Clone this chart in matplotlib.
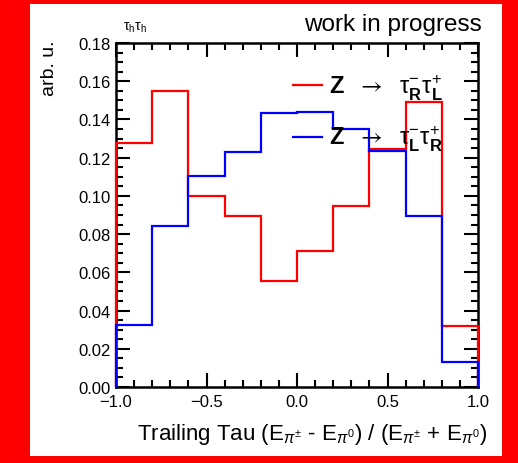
import matplotlib
matplotlib.use("Agg")
import matplotlib.pyplot as plt
from matplotlib.patches import Rectangle
from matplotlib.ticker import MultipleLocator, FuncFormatter
import numpy as np

plt.rcParams['font.family'] = ['Liberation Sans', 'DejaVu Sans']
plt.rcParams['mathtext.fontset'] = 'custom'
plt.rcParams['mathtext.rm'] = 'Liberation Sans'
plt.rcParams['mathtext.it'] = 'Liberation Sans:italic'
plt.rcParams['mathtext.bf'] = 'Liberation Sans:bold'
plt.rcParams['mathtext.sf'] = 'STIXGeneral'

bin_edges = [-1.0, -0.8, -0.6, -0.4, -0.2, 0.0, 0.2, 0.4, 0.6, 0.8, 1.0]
red_values = [0.1275, 0.1547, 0.0998, 0.0897, 0.0555, 0.0712, 0.0945, 0.1245, 0.1490, 0.0320]
blue_values = [0.0325, 0.0840, 0.1104, 0.1232, 0.1432, 0.1441, 0.1352, 0.1237, 0.0897, 0.0130]
red_label = r'$\mathbf{Z}\ \ \mathsf{\rightarrow}\ \ \mathrm{\tau}^{-}_{\mathbf{R}}\mathrm{\tau}^{+}_{\mathbf{L}}$'
blue_label = r'$\mathbf{Z}\ \ \mathsf{\rightarrow}\ \ \mathrm{\tau}^{-}_{\mathbf{L}}\mathrm{\tau}^{+}_{\mathbf{R}}$'

W, H = 518, 464
fig = plt.figure(figsize=(W/100, H/100), dpi=100)
fig.patch.set_facecolor('#ff0000')
fig.patches.append(Rectangle((30/W, 7/H), 472/W, 452/H, transform=fig.transFigure,
                             facecolor='white', edgecolor='none', zorder=0))

ax = fig.add_axes([116/W, 1-388/H, 362/W, 344/H])
ax.set_zorder(2)
ax.set_facecolor('white')

ax.stairs(red_values, bin_edges, baseline=0, color='#ff0000', lw=1.6, zorder=3,
          clip_on=False, label=red_label)
ax.stairs(blue_values, bin_edges, baseline=0, color='#0000ff', lw=1.6, zorder=3.1,
          clip_on=False, label=blue_label)

ax.set_xlim(-1, 1)
ax.set_ylim(0, 0.18)
ax.xaxis.set_major_locator(MultipleLocator(0.5))
ax.xaxis.set_minor_locator(MultipleLocator(0.1))
ax.yaxis.set_major_locator(MultipleLocator(0.02))
ax.yaxis.set_minor_locator(MultipleLocator(0.005))
ax.xaxis.set_major_formatter(FuncFormatter(lambda v, p: ('%.1f' % v).replace('-', '\u2212')))
ax.yaxis.set_major_formatter(FuncFormatter(lambda v, p: '%.2f' % v))
ax.tick_params(which='both', direction='in', top=True, right=True, width=1.5, labelsize=12)
ax.tick_params(which='major', length=10)
ax.tick_params(axis='y', which='major', pad=4)
ax.tick_params(axis='x', which='major', pad=5)
ax.tick_params(which='minor', length=5)
for s in ax.spines.values():
    s.set_linewidth(1.8)

fig.text(487/W, 1-440/H,
         r'Trailing Tau (E$_{\pi^{\pm}}$ - E$_{\pi^{0}}$) / (E$_{\pi^{\pm}}$ + E$_{\pi^{0}}$)',
         ha='right', va='baseline', fontsize=16)
fig.text(49/W, 1-40/H, 'arb. u.', rotation=90, ha='center', va='top', fontsize=14)
fig.text(482/W, 1-31/H, 'work in progress', ha='right', va='baseline', fontsize=17.5)
fig.text(123/W, 1-31/H, r'$\mathrm{\tau}_{\mathrm{h}}\mathrm{\tau}_{\mathrm{h}}$',
         ha='left', va='baseline', fontsize=10)

ax.legend(loc='center left', bbox_to_anchor=(0.49, 0.797), frameon=False,
          fontsize=17, handlelength=1.2, handletextpad=0.3, labelspacing=0.95,
          borderaxespad=0, borderpad=0)

fig.savefig('out.png', dpi=100, facecolor=fig.get_facecolor())
